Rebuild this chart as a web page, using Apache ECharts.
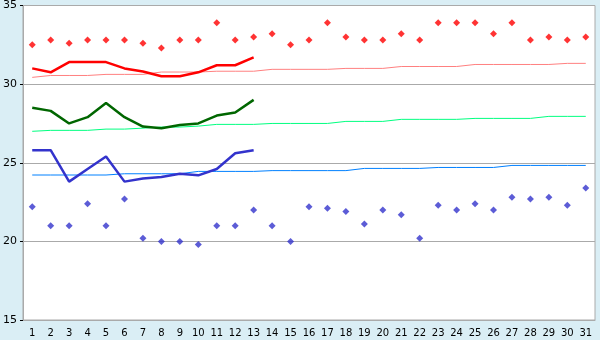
<!DOCTYPE html>
<html>
<head>
<meta charset="utf-8">
<script src="https://cdn.jsdelivr.net/npm/echarts@6/dist/echarts.min.js"></script>
<style>
html,body{margin:0;padding:0;background:#daeef5;}
#c{width:600px;height:340px;}
</style>
</head>
<body>
<div id="c"></div>
<script>
var days = [];
for (var d = 1; d <= 31; d++) days.push(String(d));

var maxDaily = [32.5,32.8,32.6,32.8,32.8,32.8,32.6,32.3,32.8,32.8,33.9,32.8,33.0,33.2,32.5,32.8,33.9,33.0,32.8,32.8,33.2,32.8,33.9,33.9,33.9,33.2,33.9,32.8,33.0,32.8,33.0];
var minDaily = [22.2,21.0,21.0,22.4,21.0,22.7,20.2,20.0,20.0,19.8,21.0,21.0,22.0,21.0,20.0,22.2,22.1,21.9,21.1,22.0,21.7,20.2,22.3,22.0,22.4,22.0,22.8,22.7,22.8,22.3,23.4];

var maxAvg = [31.0,30.75,31.4,31.4,31.4,31.0,30.8,30.5,30.5,30.75,31.2,31.2,31.7];
var meanAvg = [28.5,28.3,27.5,27.9,28.8,27.9,27.3,27.2,27.4,27.5,28.0,28.2,29.0];
var minAvg = [25.8,25.8,23.8,24.6,25.4,23.8,24.0,24.1,24.3,24.2,24.6,25.6,25.8];

var maxNormal = [30.43,30.55,30.55,30.55,30.62,30.62,30.62,30.77,30.77,30.77,30.82,30.82,30.82,30.94,30.94,30.94,30.94,31.0,31.0,31.0,31.12,31.12,31.12,31.12,31.25,31.25,31.25,31.25,31.25,31.32,31.32];
var meanNormal = [27.0,27.06,27.06,27.06,27.14,27.14,27.2,27.27,27.27,27.33,27.44,27.44,27.44,27.5,27.5,27.5,27.5,27.63,27.63,27.63,27.76,27.76,27.76,27.76,27.82,27.82,27.82,27.82,27.95,27.95,27.95];
var minNormal = [24.22,24.22,24.22,24.22,24.22,24.3,24.3,24.3,24.3,24.45,24.45,24.45,24.45,24.5,24.5,24.5,24.5,24.5,24.64,24.64,24.64,24.64,24.7,24.7,24.7,24.7,24.83,24.83,24.83,24.83,24.83];

var yTicks = [15, 20, 25, 30, 35];

var chart = echarts.init(document.getElementById('c'), null, {renderer: 'canvas'});
function lineS(data, color, width) {
  return {type: 'line', data: data, showSymbol: false, symbol: 'none', smooth: false,
    lineStyle: {color: color, width: width}, itemStyle: {color: color}, animation: false, z: 3};
}
function dotS(data, color) {
  return {type: 'scatter', data: data, symbol: 'diamond', symbolSize: 7,
    itemStyle: {color: color}, animation: false, z: 4};
}
chart.setOption({
  backgroundColor: '#daeef5',
  animation: false,
  grid: {left: 20, right: 5, top: 5, bottom: 20, show: true, backgroundColor: '#ffffff',
    borderColor: '#aaaaaa', borderWidth: 1},
  xAxis: {
    type: 'category', data: days, boundaryGap: true,
    axisLine: {lineStyle: {color: '#aaaaaa', width: 1}},
    axisTick: {alignWithLabel: true, length: 5, lineStyle: {color: '#000000'}},
    axisLabel: {color: '#000', fontFamily: 'DejaVu Sans', fontSize: 10, margin: 8, interval: 0},
    splitLine: {show: false}
  },
  yAxis: {
    type: 'value', min: yTicks[0], max: yTicks[yTicks.length - 1], interval: 5,
    axisLine: {show: true, lineStyle: {color: '#aaaaaa', width: 1}},
    axisTick: {show: true, length: 3, lineStyle: {color: '#000000'}},
    axisLabel: {color: '#000', fontFamily: 'DejaVu Sans', fontSize: 11, margin: 6},
    splitLine: {show: true, lineStyle: {color: '#aaaaaa', width: 1}}
  },
  series: [
    lineS(maxNormal, '#ff8080', 1),
    lineS(meanNormal, '#00ff80', 1),
    lineS(minNormal, '#0080ff', 1),
    lineS(maxAvg, '#ff0000', 2.5),
    lineS(meanAvg, '#006600', 2.5),
    lineS(minAvg, '#3333cc', 2.5),
    dotS(maxDaily, '#ff0000'),
    dotS(minDaily, '#3333cc')
  ]
});
</script>
</body>
</html>
